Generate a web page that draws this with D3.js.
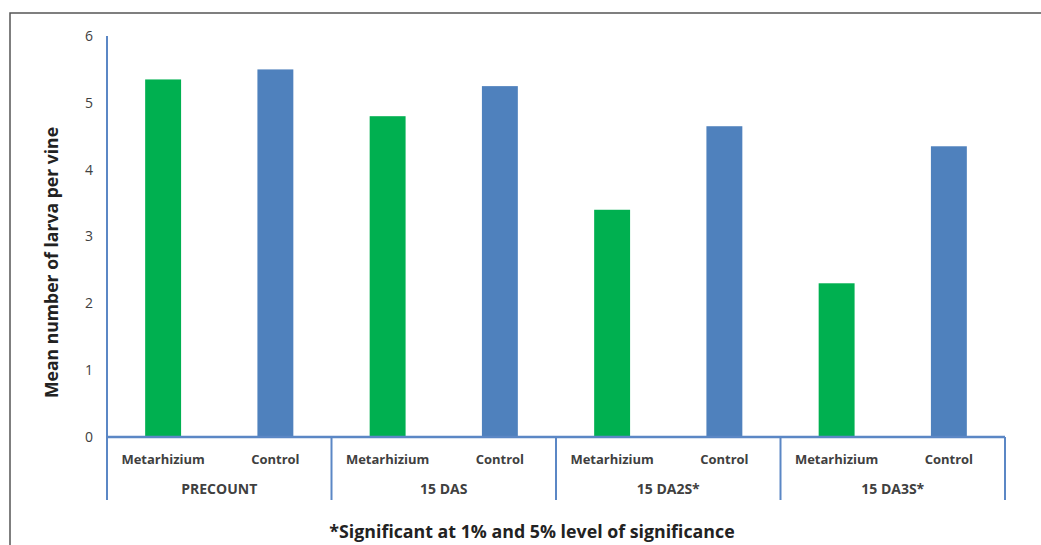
<!DOCTYPE html>
<html><head><meta charset="utf-8">
<script src="https://cdn.jsdelivr.net/npm/d3@7"></script>
<style>body{margin:0;background:#fff}svg{display:block}</style>
</head><body>
<script>
const groups = ["PRECOUNT", "15 DAS", "15 DA2S*", "15 DA3S*"];
const categories = ["Metarhizium", "Control"];
const metarhiziumValues = [5.35, 4.8, 3.4, 2.3];
const controlValues = [5.5, 5.25, 4.65, 4.35];
const yTicks = [0, 1, 2, 3, 4, 5, 6];
const yTitle = "Mean number of larva per vine";
const footnote = "*Significant at 1% and 5% level of significance";
const colors = {Metarhizium: "#00B050", Control: "#4F81BD"};

const W = 1041, H = 545;
const svg = d3.select("body").append("svg").attr("width", W).attr("height", H);
svg.append("rect").attr("x", 10).attr("y", 13).attr("width", 1040).attr("height", 560)
  .attr("fill", "none").attr("stroke", "#555").attr("stroke-width", 1.5);

const x0 = 107, x1 = 1005, yTop = 36, yBot = 437;
const y = d3.scaleLinear().domain([0, 6]).range([yBot, yTop]);
const gx = d3.scaleBand().domain(groups).range([x0, x1]);
const cx = d3.scaleBand().domain(categories).range([0, gx.bandwidth()]).paddingInner(0.68).paddingOuter(0.34);

const data = [];
groups.forEach((g, i) => {
  data.push({g, c: "Metarhizium", v: metarhiziumValues[i]});
  data.push({g, c: "Control", v: controlValues[i]});
});

svg.selectAll("rect.bar").data(data).join("rect").attr("class", "bar")
  .attr("x", d => gx(d.g) + cx(d.c)).attr("width", cx.bandwidth())
  .attr("y", d => y(d.v)).attr("height", d => yBot - y(d.v))
  .attr("fill", d => colors[d.c]);

const axisColor = "#5B87C5";
svg.append("line").attr("x1", x0).attr("x2", x0).attr("y1", yTop).attr("y2", yBot)
  .attr("stroke", axisColor).attr("stroke-width", 2);
svg.selectAll("text.yt").data(yTicks).join("text").attr("class", "yt")
  .attr("x", 93).attr("y", d => y(d)).attr("dy", "0.35em").attr("text-anchor", "end")
  .attr("font-family", "Open Sans, sans-serif").attr("font-size", 14).attr("fill", "#404040")
  .text(d => d);
svg.append("line").attr("x1", x0).attr("x2", x1).attr("y1", yBot).attr("y2", yBot)
  .attr("stroke", axisColor).attr("stroke-width", 2.5);
const divs = groups.map(g => gx(g)).concat([x1]);
svg.selectAll("line.div").data(divs).join("line").attr("class", "div")
  .attr("x1", d => d).attr("x2", d => d).attr("y1", yBot).attr("y2", 500)
  .attr("stroke", axisColor).attr("stroke-width", 2);

const catLabels = [];
groups.forEach(g => categories.forEach(c => catLabels.push({g, c})));
svg.selectAll("text.cat").data(catLabels).join("text").attr("class", "cat")
  .attr("x", d => gx(d.g) + cx(d.c) + cx.bandwidth() / 2).attr("y", 464)
  .attr("text-anchor", "middle").attr("font-family", "Open Sans, sans-serif")
  .attr("font-weight", "bold").attr("font-size", 13).attr("fill", "#404040").text(d => d.c);
svg.selectAll("text.grp").data(groups).join("text").attr("class", "grp")
  .attr("x", d => gx(d) + gx.bandwidth() / 2).attr("y", 494)
  .attr("text-anchor", "middle").attr("font-family", "Open Sans, sans-serif")
  .attr("font-weight", "bold").attr("font-size", 14).attr("fill", "#404040").text(d => d);

svg.append("text").attr("transform", `translate(58,${(yTop + yBot) / 2 + 26}) rotate(-90)`)
  .attr("text-anchor", "middle").attr("font-family", "Open Sans, sans-serif")
  .attr("font-weight", "bold").attr("font-size", 17.6).attr("fill", "#222").text(yTitle);
svg.append("text").attr("x", 532).attr("y", 538).attr("text-anchor", "middle")
  .attr("font-family", "Open Sans, sans-serif").attr("font-weight", "bold")
  .attr("font-size", 17.8).attr("fill", "#222").text(footnote);
</script>
</body></html>
